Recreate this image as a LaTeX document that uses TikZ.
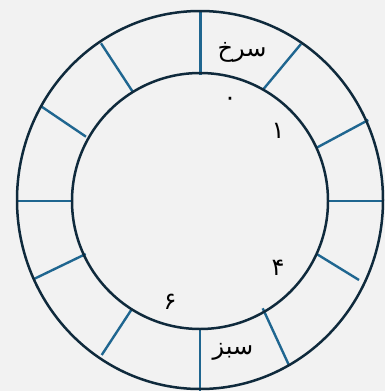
\documentclass[tikz,border=0pt]{standalone}
\usepackage{fontspec}
\newfontfamily\arabicfont[Script=Arabic]{DejaVu Sans}
\TeXXeTstate=1
\definecolor{bgc}{HTML}{F2F2F2}
\definecolor{ringc}{HTML}{0F2A3C}
\definecolor{spokec}{HTML}{1F6690}
\tikzset{
  ring/.style={draw=ringc, line width=2.5pt},
  spoke/.style={draw=spokec, line width=2.4pt},
  word/.style={font=\arabicfont\fontsize{24}{28}\selectfont, text=black, inner sep=0pt},
  digit/.style={font=\arabicfont\fontsize{24}{28}\selectfont, text=black, inner sep=0pt}
}
\begin{document}
\begin{tikzpicture}[x=1pt,y=-1pt]
\fill[bgc] (0,0) rectangle (385,391);
\useasboundingbox (0,0) rectangle (385,391);
\coordinate (c) at (200,201);
% spokes
\draw[spoke] (200.5,75) -- (200.5,10);
\draw[spoke] (262.7,90) -- (301,44);
\draw[spoke] (316.7,147.7) -- (368.3,120);
\draw[spoke] (328,201) -- (383,201);
\draw[spoke] (316.7,254) -- (359,280);
\draw[spoke] (262.7,308.3) -- (289.3,366);
\draw[spoke] (200,328) -- (200,391);
\draw[spoke] (131.7,309.3) -- (101.7,355);
\draw[spoke] (85.7,254) -- (33.3,279.3);
\draw[spoke] (71,201) -- (17,201);
\draw[spoke] (86,136.7) -- (41.7,106.7);
\draw[spoke] (132.7,91.7) -- (101,43.3);
% rings
\draw[ring] (200,200) ellipse [x radius=183, y radius=189];
\draw[ring] (c) circle [radius=128];
% labels
\node[word] (red) at (242,52) {\beginR سرخ\endR};
\node[word] (green) at (233,352) {\beginR سبز\endR};
\node[digit] (d0) at (230,101) {۰};
\node[digit] (d1) at (278,131) {۱};
\node[digit] (d4) at (278,268) {۴};
\node[digit] (d6) at (170,302) {۶};
\end{tikzpicture}
\end{document}
